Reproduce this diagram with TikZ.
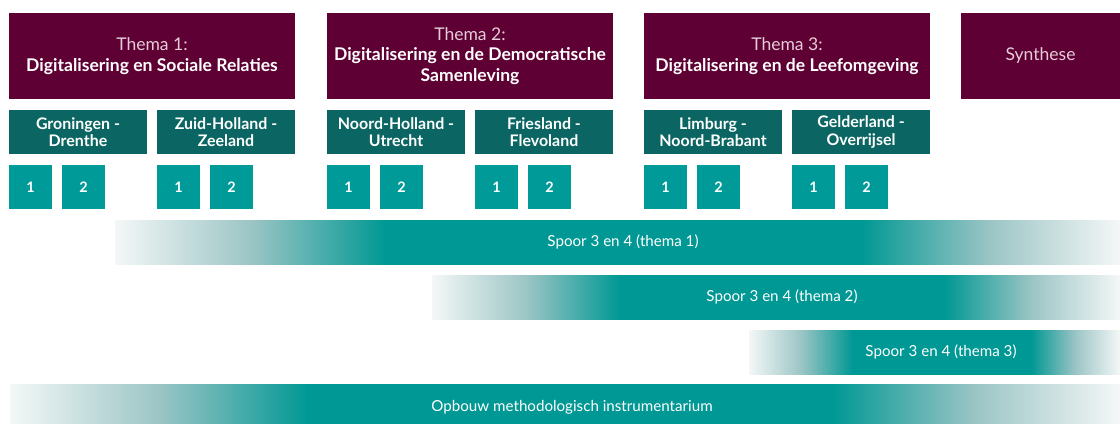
\documentclass[tikz,border=0pt]{standalone}
\usepackage{fontspec}
\setmainfont{Lato}
\usetikzlibrary{positioning}
\definecolor{themared}{HTML}{5E0033}
\definecolor{themalight}{HTML}{E6CCD9}
\definecolor{regiogreen}{HTML}{0B6663}
\definecolor{deelteal}{HTML}{009A98}
\definecolor{spoorteal}{HTML}{009894}
\definecolor{fadegray}{HTML}{9CC5C5}
\definecolor{fadeend}{HTML}{F4F7F7}

\begin{document}
\begin{tikzpicture}[x=1bp,y=1bp,
                thema/.style={fill=themared, text=white, minimum width=286bp, minimum height=86bp,
                  inner sep=0pt, outer sep=0pt, align=center, font=\fontsize{17.6}{20.5}\selectfont},
                regio/.style={fill=regiogreen, text=white, minimum width=138bp, minimum height=44bp,
                  inner sep=0pt, outer sep=0pt, align=center, font=\bfseries\fontsize{16}{17.5}\selectfont},
                deel/.style={fill=deelteal, text=white, minimum width=43bp, minimum height=44bp,
                  inner sep=0pt, outer sep=0pt, font=\bfseries\fontsize{14.5}{16}\selectfont},
                fadein/.style={left color=fadeend, right color=spoorteal, middle color=fadegray},
                fadeout/.style={left color=spoorteal, right color=fadeend, middle color=fadegray},
                vol/.style={left color=spoorteal, right color=spoorteal},
                spoor/.style={text=white, font=\fontsize{15.2}{17}\selectfont}
                ]
                \useasboundingbox (0,0) rectangle (1120,-423);
                % thema's
                \node [thema, anchor=north west] (t1) at (9,-13)
                  {\textcolor{themalight}{Thema 1:}\\\textbf{Digitalisering en Sociale Relaties}};
                \node [thema, right=32bp of t1] (t2)
                  {\textcolor{themalight}{Thema 2:}\\\textbf{Digitalisering en de Democratische}\\\textbf{Samenleving}};
                \node [thema, right=31bp of t2] (t3)
                  {\textcolor{themalight}{Thema 3:}\\\textbf{Digitalisering en de Leefomgeving}};
                \node [thema, minimum width=159bp, right=31bp of t3] (syn) {\textcolor{themalight}{Synthese}};
                % regio's
                \node [regio, below right=11bp and 0bp of t1.south west] (gd) {Groningen -\\Drenthe};
                \node [regio, below left=11bp and 0bp of t1.south east] (zz) {Zuid-Holland -\\Zeeland};
                \node [regio, below right=11bp and 0bp of t2.south west] (nu) {Noord-Holland -\\Utrecht};
                \node [regio, below left=11bp and 0bp of t2.south east] (ff) {Friesland -\\Flevoland};
                \node [regio, below right=11bp and 0bp of t3.south west] (ln) {Limburg -\\Noord-Brabant};
                \node [regio, below left=11bp and 0bp of t3.south east] (go) {Gelderland -\\Overrijsel};
                \foreach \r in {gd,zz,nu,ff,ln,go}{
                  \node [deel, below right=11bp and 0bp of \r.south west] (\r1) {1};
                  \node [deel, right=10bp of \r1] (\r2) {2};
                }
                % sporen
                \shade [fadein] (115,-220) rectangle (386,-264);
                \shade [vol] (385,-220) rectangle (862,-264);
                \shade [fadeout] (861,-220) rectangle (1120,-264);
                \node [spoor] (s1) at (623,-242) {Spoor 3 en 4 (thema 1)};
                \shade [fadein] (432,-275) rectangle (620,-319);
                \shade [vol] (619,-275) rectangle (945,-319);
                \shade [fadeout] (944,-275) rectangle (1120,-319);
                \node [spoor] (s2) at (782,-297) {Spoor 3 en 4 (thema 2)};
                \shade [fadein] (749,-330) rectangle (853,-374);
                \shade [vol] (852,-330) rectangle (1032,-374);
                \shade [fadeout] (1031,-330) rectangle (1120,-374);
                \node [spoor] (s3) at (941,-352) {Spoor 3 en 4 (thema 3)};
                \shade [fadein] (10,-384) rectangle (308,-428);
                \shade [vol] (307,-384) rectangle (833,-428);
                \shade [fadeout] (832,-384) rectangle (1120,-428);
                \node [spoor] (ob) at (572,-407) {Opbouw methodologisch instrumentarium};
\end{tikzpicture}
\end{document}
